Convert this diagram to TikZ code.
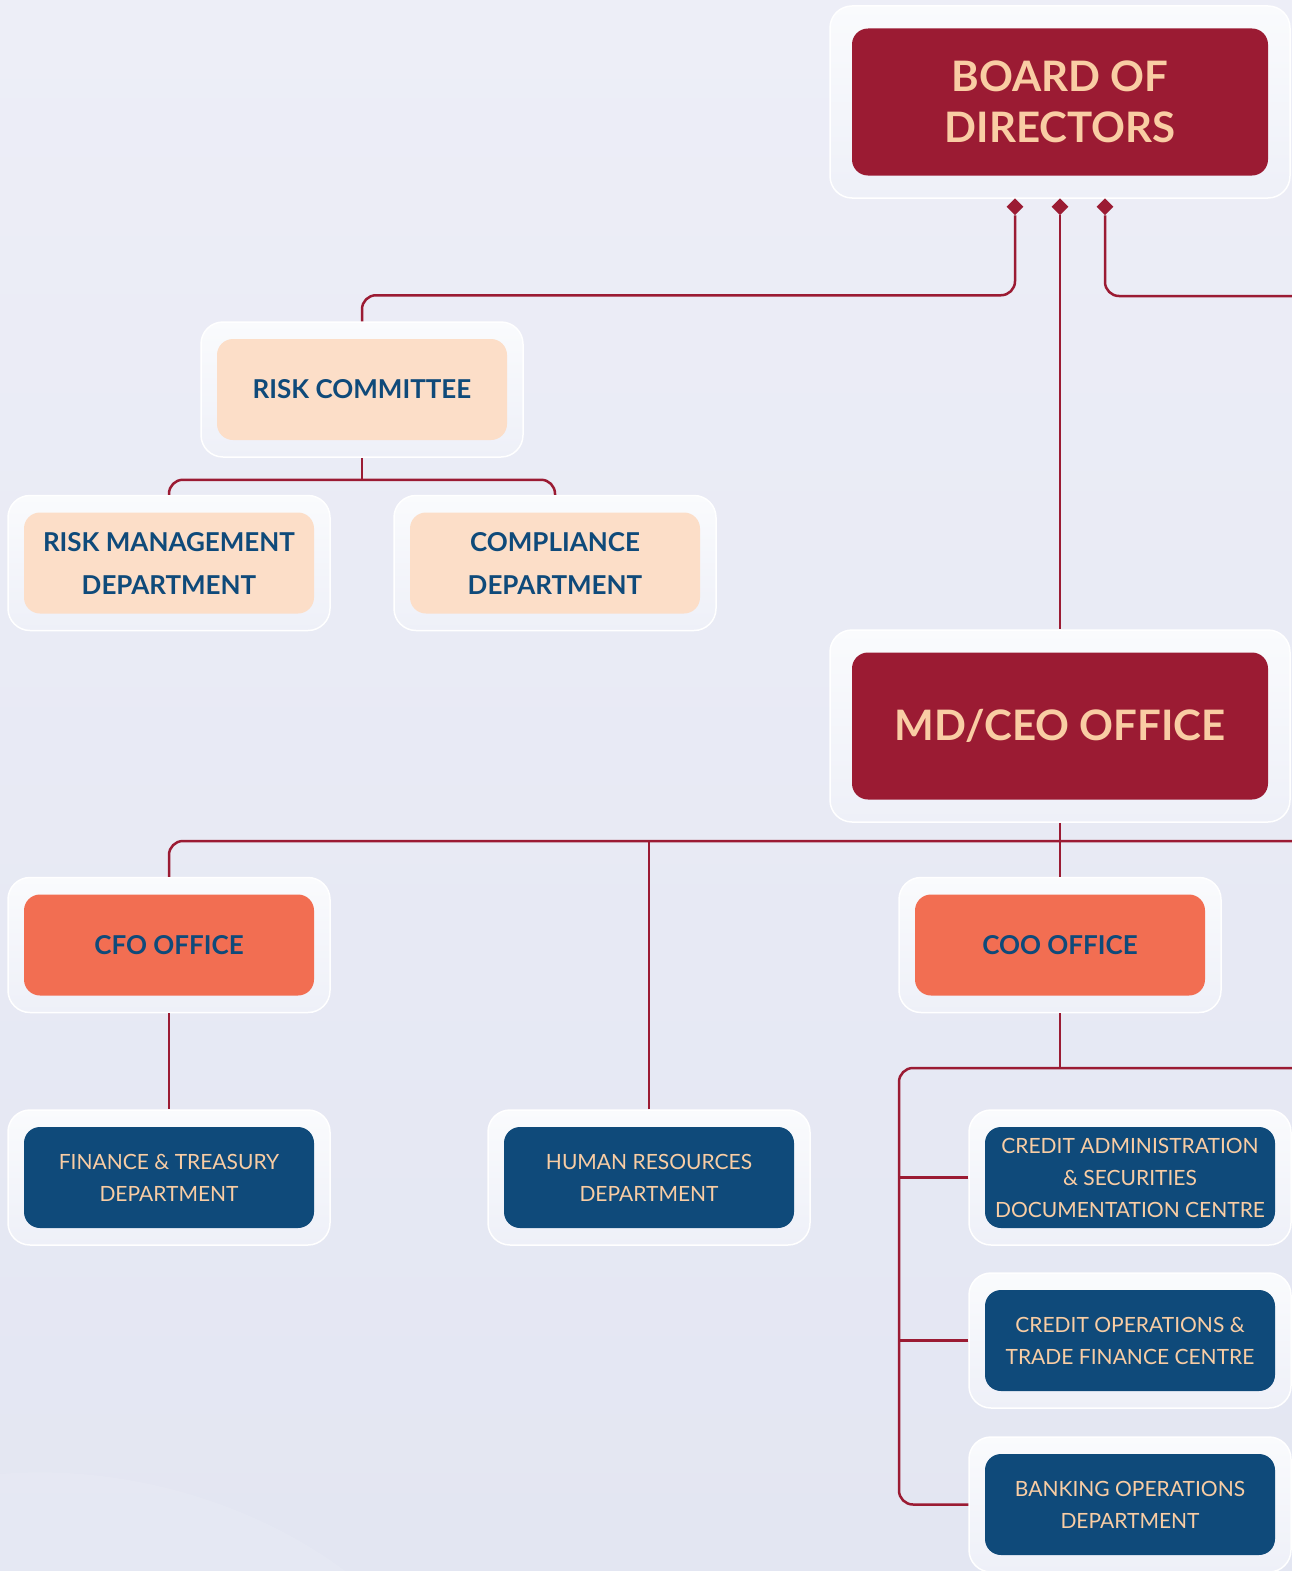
\documentclass[tikz,border=0pt]{standalone}
\usepackage{fontspec}
\setmainfont{Lato}
\usepackage{tikz}
\usetikzlibrary{shapes.geometric}
\definecolor{maroon}{HTML}{9B1B33}
\definecolor{peach}{HTML}{F9CDA4}
\definecolor{softpeach}{HTML}{FCDEC8}
\definecolor{coral}{HTML}{F26E52}
\definecolor{navy}{HTML}{0F4A7A}
\definecolor{bgA}{HTML}{EDEEF7}
\definecolor{bgB}{HTML}{E3E6F2}
\definecolor{frameA}{HTML}{FAFBFD}
\definecolor{frameB}{HTML}{EEF0F8}

\begin{document}
\begin{tikzpicture}[x=1pt,y=-1pt,
	frame/.style={rectangle,rounded corners=22pt,draw=white,line width=1.5pt,top color=frameA,bottom color=frameB,minimum width=322pt,minimum height=135pt},
	bigframe/.style={frame,minimum width=460pt,minimum height=192pt},
	headbox/.style={rectangle,rounded corners=16pt,fill=maroon,text=peach,minimum width=416pt,minimum height=147pt,align=center,font=\bfseries\fontsize{42}{51}\selectfont},
	softbox/.style={rectangle,rounded corners=16pt,fill=softpeach,text=navy,minimum width=290pt,minimum height=101pt,align=center,font=\bfseries\fontsize{26}{43}\selectfont},
	officebox/.style={softbox,fill=coral},
	deptbox/.style={rectangle,rounded corners=16pt,fill=navy,text=peach,minimum width=290pt,minimum height=101pt,align=center,font=\fontsize{21}{32}\selectfont},
	knob/.style={diamond,fill=maroon,inner sep=0pt,minimum size=17pt},
	link/.style={draw=maroon,line width=2.5pt,rounded corners=14pt}]
	\useasboundingbox (0,0) rectangle (1292,1571);
	\shade[top color=bgA,bottom color=bgB] (0,0) rectangle (1292,1571);
	\fill[white,opacity=0.1] (0,1474) .. controls (120,1464) and (250,1500) .. (345,1571) -- (0,1571) -- cycle;
	% top level
	\node[bigframe] (board) at (1060,102) {};
	\node[headbox] (boardIn) at (board) {BOARD OF\\DIRECTORS};
	\node[knob] (k1) at ([xshift=-45pt,yshift=-8pt]board.south) {};
	\node[knob] (k2) at ([yshift=-8pt]board.south) {};
	\node[knob] (k3) at ([xshift=45pt,yshift=-8pt]board.south) {};
	\node[bigframe] (md) at (1060,726) {};
	\node[headbox] (mdIn) at (md) {MD/CEO OFFICE};
	% risk branch
	\node[frame] (rc) at (362,389.5) {};
	\node[softbox] (rcIn) at (rc) {RISK COMMITTEE};
	\node[frame] (rm) at (169,563) {};
	\node[softbox] (rmIn) at (rm) {RISK MANAGEMENT\\DEPARTMENT};
	\node[frame] (cp) at (555,563) {};
	\node[softbox] (cpIn) at (cp) {COMPLIANCE\\DEPARTMENT};
	% offices
	\node[frame] (cfo) at (169,945) {};
	\node[officebox] (cfoIn) at (cfo) {CFO OFFICE};
	\node[frame] (coo) at (1060,945) {};
	\node[officebox] (cooIn) at (coo) {COO OFFICE};
	% departments
	\node[frame] (ft) at (169,1177.5) {};
	\node[deptbox] (ftIn) at (ft) {FINANCE \& TREASURY\\DEPARTMENT};
	\node[frame] (hr) at (649,1177.5) {};
	\node[deptbox] (hrIn) at (hr) {HUMAN RESOURCES\\DEPARTMENT};
	\node[frame] (ca) at (1130,1177.5) {};
	\node[deptbox] (caIn) at (ca) {CREDIT ADMINISTRATION\\\& SECURITIES\\DOCUMENTATION CENTRE};
	\node[frame] (co) at (1130,1340.5) {};
	\node[deptbox] (coIn) at (co) {CREDIT OPERATIONS \&\\TRADE FINANCE CENTRE};
	\node[frame] (bo) at (1130,1504.5) {};
	\node[deptbox] (boIn) at (bo) {BANKING OPERATIONS\\DEPARTMENT};
	% connectors
	\coordinate (eastA) at (1300,296);
	\coordinate (eastB) at (1300,841);
	\coordinate (eastC) at (1300,1068);
	\coordinate (bus) at (899,1068);
	\draw[link] (k1) |- ([yshift=26pt]rc.north) -- (rc.north);
	\draw[link] (k2) -- (md.north);
	\draw[link] (k3) |- (eastA);
	\draw[link] (rc.south) -- ([yshift=-22pt]rc.south);
	\draw[link] (rm.north) |- ([yshift=-22pt]rc.south) -| (cp.north);
	\draw[link] (cfo.north) |- (eastB);
	\draw[link] (md.south) -- (coo.north);
	\draw[link] (hr.north) -- (hr.north |- eastB);
	\draw[link] (cfo.south) -- (ft.north);
	\draw[link] (coo.south) -- (coo.south |- eastC);
	\draw[link] (eastC) -- (bus) |- (bo.west);
	\draw[link] (ca.west) -- (ca.west -| bus);
	\draw[link] (co.west) -- (co.west -| bus);
\end{tikzpicture}
\end{document}
